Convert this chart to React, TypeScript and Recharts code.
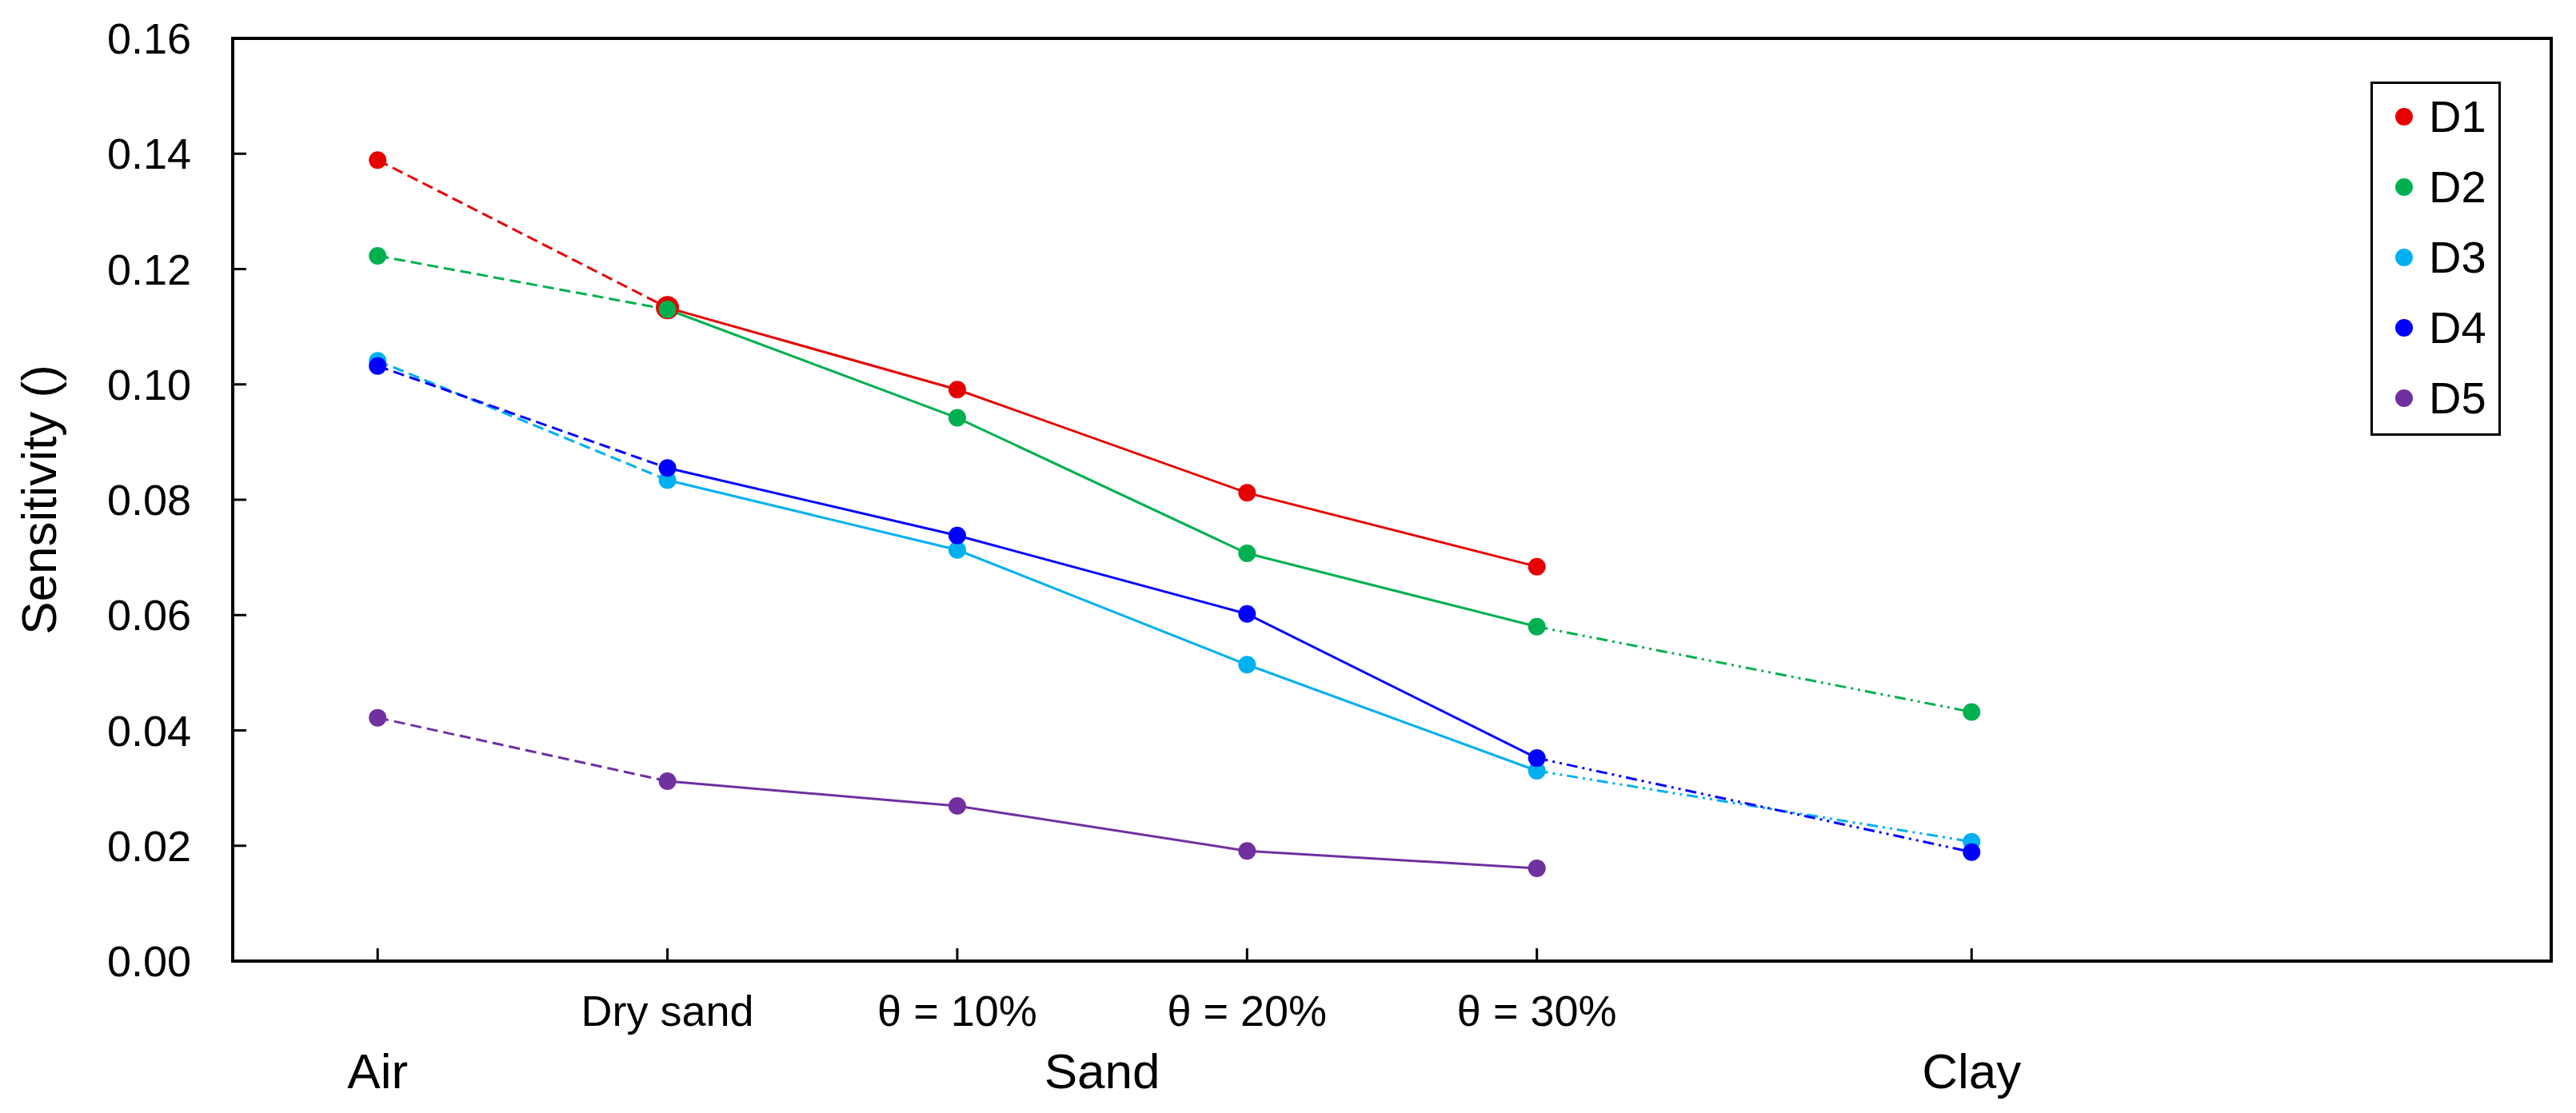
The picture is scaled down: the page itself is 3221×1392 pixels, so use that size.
import React from 'react';
import { LineChart, Line, XAxis, YAxis, Legend, ReferenceArea } from 'recharts';

const categories = ['Air', 'Dry sand', 'θ = 10%', 'θ = 20%', 'θ = 30%', 'Clay'];
const xPositions = [1, 2, 3, 4, 5, 6.5];
const tickLabels = ['', 'Dry sand', 'θ = 10%', 'θ = 20%', 'θ = 30%', ''];
const groupLabels = ['Air', 'Sand', 'Clay'];
const groupPositions = [1, 3.5, 6.5];
const yTicks = [0, 0.02, 0.04, 0.06, 0.08, 0.1, 0.12, 0.14, 0.16];

const seriesNames = ['D1', 'D2', 'D3', 'D4', 'D5'];
const seriesColors = ['#E60000', '#00B050', '#00B0F0', '#0000FF', '#7030A0'];

const d1 = [0.1389, 0.1133, 0.0991, 0.0812, 0.0684, null];
const d2 = [0.1223, 0.113, 0.0942, 0.0707, 0.058, 0.0432];
const d3 = [0.1041, 0.0834, 0.0713, 0.0514, 0.033, 0.0207];
const d4 = [0.1032, 0.0855, 0.0738, 0.0602, 0.0352, 0.0189];
const d5 = [0.0422, 0.0312, 0.0269, 0.0191, 0.0161, null];
const seriesValues = [d1, d2, d3, d4, d5];

// each series is split in 3 segments: air (dashed), sand (solid), clay (dash-dot-dot)
const rows = categories.map((cat, i) => {
  const row: any = { x: xPositions[i], cat };
  seriesNames.forEach((name, s) => {
    const v = seriesValues[s][i];
    row[name + '_a'] = i <= 1 ? v : null;
    row[name + '_s'] = i >= 1 && i <= 4 ? v : null;
    row[name + '_c'] = i >= 4 ? v : null;
    row[name + '_p'] = v;
  });
  return row;
});

const FONT = '"Liberation Sans", Arial, Helvetica, sans-serif';

const XTick = (props: any) => {
  const { x, y, payload } = props;
  const v = payload.value;
  const idx = xPositions.indexOf(v);
  const g = groupPositions.indexOf(v);
  return (
    <g>
      {idx >= 0 && <line x1={x} x2={x} y1={y} y2={y - 16} stroke="#000" strokeWidth={3} />}
      {idx >= 0 && tickLabels[idx] && (
        <text x={x} y={y + 81} textAnchor="middle" fontSize={54} fontFamily={FONT} fill="#000">
          {tickLabels[idx]}
        </text>
      )}
      {g >= 0 && (
        <text x={x} y={y + 159} textAnchor="middle" fontSize={62} fontFamily={FONT} fill="#000">
          {groupLabels[g]}
        </text>
      )}
    </g>
  );
};

const YTick = (props: any) => {
  const { x, y, payload } = props;
  return (
    <g>
      <line x1={x} x2={x + 17} y1={y} y2={y} stroke="#000" strokeWidth={3} />
      <text x={x - 52} y={y + 19} textAnchor="end" fontSize={54} fontFamily={FONT} fill="#000">
        {Number(payload.value).toFixed(2)}
      </text>
    </g>
  );
};

const YLabel = (props: any) => {
  const vb = props.viewBox || {};
  const cy = vb.y != null && vb.height != null ? vb.y + vb.height / 2 : 625;
  const cx = 70;
  return (
    <text
      x={cx}
      y={cy}
      textAnchor="middle"
      fontSize={62}
      fontFamily={FONT}
      fill="#000"
      transform={`rotate(-90 ${cx} ${cy})`}
    >
      Sensitivity ()
    </text>
  );
};

const LegendBox = () => (
  <div
    style={{
      position: 'relative',
      width: 163,
      height: 443,
      border: '3px solid #000',
      boxSizing: 'border-box',
      background: '#fff',
      fontFamily: FONT,
    }}
  >
    {seriesNames.map((name, i) => (
      <div
        key={name}
        style={{ position: 'absolute', left: 0, top: 88 * i - 3, height: 88, width: '100%' }}
      >
        <span
          style={{
            position: 'absolute',
            left: 28,
            top: 33,
            width: 22,
            height: 22,
            borderRadius: '50%',
            background: seriesColors[i],
          }}
        />
        <span
          style={{
            position: 'absolute',
            left: 70,
            top: 12,
            fontSize: 56,
            lineHeight: '64px',
            color: '#000',
          }}
        >
          {name}
        </span>
      </div>
    ))}
  </div>
);

const makeDot = (color: string, big: number) => (props: any) => {
  const { cx, cy, index, value } = props;
  if (cx == null || cy == null || value == null) return <g key={`d-${index}`} />;
  return <circle key={`d-${index}`} cx={cx} cy={cy} r={index === big ? 14.5 : 11} fill={color} />;
};

const App: React.FC = () => {
  return (
    <div style={{ position: 'absolute', left: 0, top: 0, width: 3221, height: 1392, background: '#fff' }}>
      <LineChart
        width={3221}
        height={1392}
        data={rows}
        margin={{ top: 48, right: 31, bottom: 0, left: 0 }}
      >
        <XAxis
          dataKey="x"
          type="number"
          domain={[0.5, 8.5]}
          ticks={[1, 2, 3, 3.5, 4, 5, 6.5]}
          interval={0}
          height={190}
          tickSize={0}
          tickMargin={0}
          tickLine={false}
          axisLine={{ stroke: '#000', strokeWidth: 4 }}
          tick={<XTick />}
        />
        <YAxis
          type="number"
          domain={[0, 0.16]}
          ticks={yTicks}
          interval={0}
          width={291}
          tickSize={0}
          tickMargin={0}
          tickLine={false}
          axisLine={{ stroke: '#000', strokeWidth: 4 }}
          tick={<YTick />}
          label={YLabel}
        />
        <ReferenceArea x1={0.5} x2={8.5} y1={0} y2={0.16} fill="none" stroke="#000" strokeWidth={4} />
        {seriesNames.map((name, s) => (
          <Line
            key={name + '_a'}
            dataKey={name + '_a'}
            stroke={seriesColors[s]}
            strokeWidth={3}
            strokeDasharray="14 7"
            dot={false}
            activeDot={false}
            legendType="none"
            isAnimationActive={false}
          />
        ))}
        {seriesNames.map((name, s) => (
          <Line
            key={name + '_s'}
            dataKey={name + '_s'}
            stroke={seriesColors[s]}
            strokeWidth={3}
            dot={false}
            activeDot={false}
            legendType="none"
            isAnimationActive={false}
          />
        ))}
        {seriesNames.map((name, s) => (
          <Line
            key={name + '_c'}
            dataKey={name + '_c'}
            stroke={seriesColors[s]}
            strokeWidth={3}
            strokeDasharray="14 6 3 6 3 6"
            dot={false}
            activeDot={false}
            legendType="none"
            isAnimationActive={false}
          />
        ))}
        {seriesNames.map((name, s) => (
          <Line
            key={name + '_p'}
            dataKey={name + '_p'}
            name={name}
            stroke="none"
            dot={makeDot(seriesColors[s], s === 0 ? 1 : -1)}
            activeDot={false}
            isAnimationActive={false}
          />
        ))}
        <Legend
          layout="vertical"
          verticalAlign="middle"
          align="center"
          wrapperStyle={{ position: 'absolute', left: 2964, top: 102, width: 163, height: 443 }}
          content={<LegendBox />}
        />
      </LineChart>
    </div>
  );
};

export default App;
